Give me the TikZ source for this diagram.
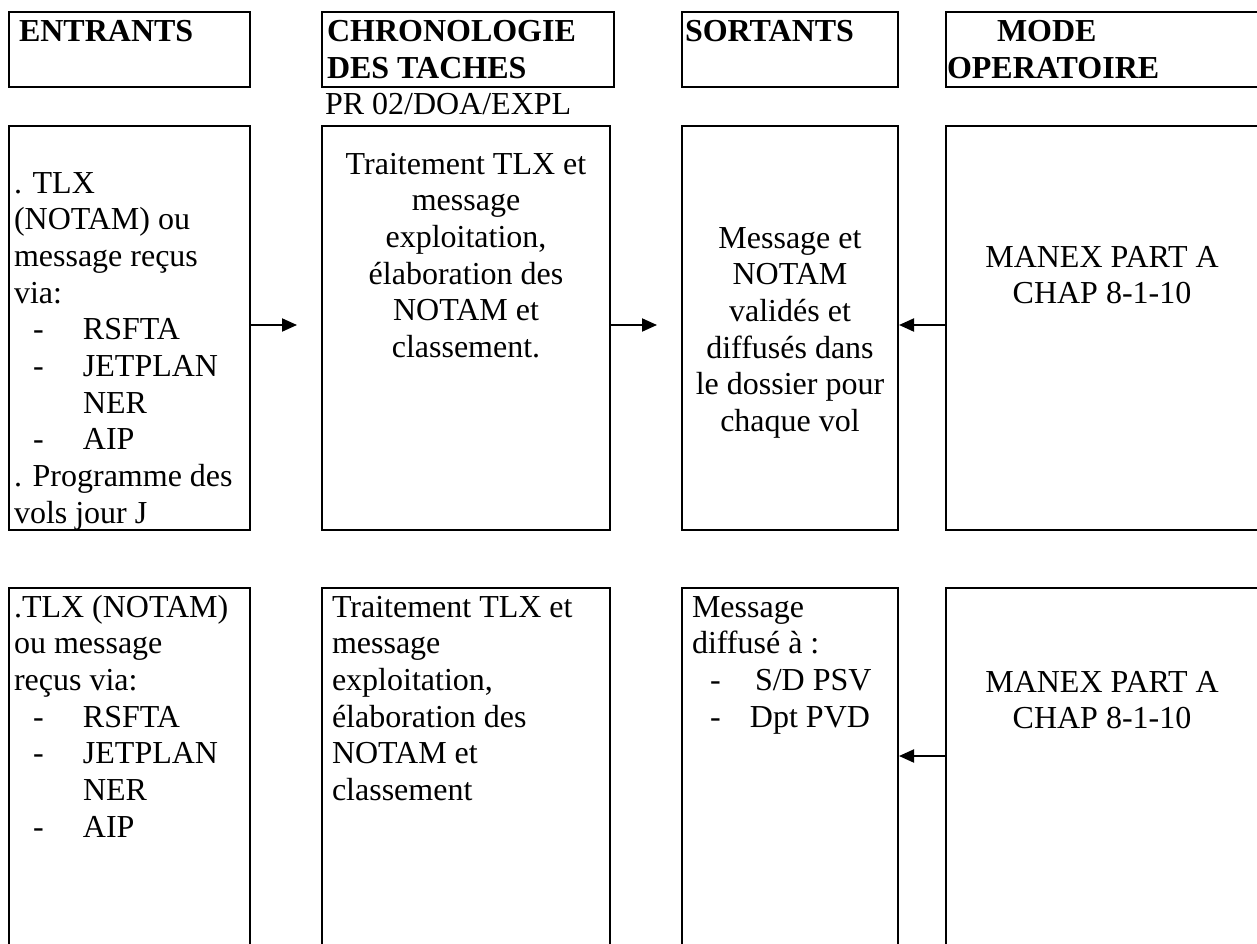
\documentclass[tikz,border=0pt]{standalone}
\usepackage{fontspec}
\setmainfont{Liberation Serif}
\usetikzlibrary{arrows.meta}
% fixed-height strut so every text block can be placed by its first baseline
\newcommand{\tzstrut}{\rule{0pt}{26pt}}
% a list line: hyphen in a box of the given width, then the item
\newcommand{\dashitem}[2]{\makebox[#1][l]{-}#2}
\begin{document}
\begin{tikzpicture}[x=1pt,y=-1pt,
  box/.style={draw, line width=2pt, rectangle, inner sep=0pt, outer sep=0pt, anchor=north west},
  txt/.style={inner sep=0pt, outer sep=0pt, font=\fontsize{32}{36.7}\selectfont},
  hd/.style={inner sep=0pt, outer sep=0pt, font=\fontsize{32}{36.7}\selectfont\bfseries},
  arr/.style={line width=2pt, -{Triangle[length=15pt,width=13pt]}},
]
\useasboundingbox (0,0) rectangle (1257,944);
\clip (0,0) rectangle (1257,944);

% ---- header row ----
\node[box, minimum width=241pt, minimum height=75pt] (h1) at (9,12) {};
\node[box, minimum width=292pt, minimum height=75pt] (h2) at (322,12) {};
\node[box, minimum width=216pt, minimum height=75pt] (h3) at (682,12) {};
\node[box, minimum width=340pt, minimum height=75pt] (h4) at (946,12) {};

\node[hd, anchor=north west] (hd1) at (19,16) {\tzstrut ENTRANTS};
\node[hd, anchor=north west, align=left] (hd2) at (327,16) {\tzstrut CHRONOLOGIE\\DES TACHES};
\node[hd, anchor=north west] (hd3) at (685,16) {\tzstrut SORTANTS};
\node[hd, anchor=north west, align=left] (hd4) at (947,16) {\tzstrut\hspace*{50pt}MODE\\OPERATOIRE};
\node[txt, anchor=north west] (proc) at (325,89) {\tzstrut PR 02/DOA/EXPL};

% ---- first process row ----
\node[box, minimum width=241pt, minimum height=404pt] (r21) at (9,126) {};
\node[box, minimum width=288pt, minimum height=404pt] (r22) at (322,126) {};
\node[box, minimum width=216pt, minimum height=404pt] (r23) at (682,126) {};
\node[box, minimum width=340pt, minimum height=404pt] (r24) at (946,126) {};

\node[txt, anchor=north west, align=left] (t21) at (14,167) {\tzstrut . TLX\\
  (NOTAM) ou\\
  message reçus\\
  via:\\
  \hspace*{19pt}\dashitem{50pt}{RSFTA}\\
  \hspace*{19pt}\dashitem{50pt}{JETPLAN}\\
  \hspace*{69pt}NER\\
  \hspace*{19pt}\dashitem{50pt}{AIP}\\
  . Programme des\\
  vols jour J};
\node[txt, anchor=north, align=center] (t22) at (466,148) {\tzstrut Traitement TLX et\\
  message\\
  exploitation,\\
  élaboration des\\
  NOTAM et\\
  classement.};
\node[txt, anchor=north, align=center] (t23) at (790,222) {\tzstrut Message et\\
  NOTAM\\
  validés et\\
  diffusés dans\\
  le dossier pour\\
  chaque vol};
\node[txt, anchor=north, align=center] (t24) at (1102,241) {\tzstrut MANEX PART A\\CHAP 8-1-10};

\draw[arr, shorten >=25pt] ([yshift=3pt]r21.east) -- ([yshift=3pt]r22.west);
\draw[arr, shorten >=25pt] ([yshift=3pt]r22.east) -- ([yshift=3pt]r23.west);
\draw[arr, shorten >=1pt] ([yshift=3pt]r24.west) -- ([yshift=3pt]r23.east);

% ---- second process row (runs past the lower edge) ----
\node[box, minimum width=241pt, minimum height=380pt] (r31) at (9,588) {};
\node[box, minimum width=288pt, minimum height=380pt] (r32) at (322,588) {};
\node[box, minimum width=216pt, minimum height=380pt] (r33) at (682,588) {};
\node[box, minimum width=340pt, minimum height=380pt] (r34) at (946,588) {};

\node[txt, anchor=north west, align=left] (t31) at (14,591) {\tzstrut .TLX (NOTAM)\\
  ou message\\
  reçus via:\\
  \hspace*{19pt}\dashitem{50pt}{RSFTA}\\
  \hspace*{19pt}\dashitem{50pt}{JETPLAN}\\
  \hspace*{69pt}NER\\
  \hspace*{19pt}\dashitem{50pt}{AIP}};
\node[txt, anchor=north west, align=left] (t32) at (332,591) {\tzstrut Traitement TLX et\\
  message\\
  exploitation,\\
  élaboration des\\
  NOTAM et\\
  classement};
\node[txt, anchor=north west, align=left] (t33) at (692,591) {\tzstrut Message\\
  diffusé à :\\
  \hspace*{18pt}\dashitem{45pt}{S/D PSV}\\
  \hspace*{18pt}\dashitem{40pt}{Dpt PVD}};
\node[txt, anchor=north, align=center] (t34) at (1102,666) {\tzstrut MANEX PART A\\CHAP 8-1-10};

\draw[arr, shorten >=1pt] ([yshift=22pt]r34.west) -- ([yshift=22pt]r33.east);
\end{tikzpicture}
\end{document}
